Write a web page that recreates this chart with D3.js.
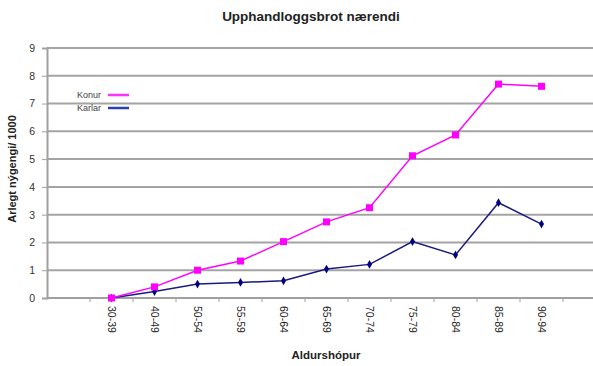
<!DOCTYPE html>
<html><head><meta charset="utf-8">
<script src="https://cdn.jsdelivr.net/npm/d3@7"></script>
<style>body{margin:0;background:#fff}svg{display:block}</style>
</head><body>
<script>
const categories = ["30-39","40-49","50-54","55-59","60-64","65-69","70-74","75-79","80-84","85-89","90-94"];
const konur = [0, 0.4, 1.0, 1.33, 2.03, 2.74, 3.25, 5.12, 5.87, 7.70, 7.62];
const karlar = [0, 0.23, 0.5, 0.56, 0.62, 1.04, 1.21, 2.03, 1.55, 3.43, 2.66];
const yTicks = [0,1,2,3,4,5,6,7,8,9];
const title = "Upphandloggsbrot nærendi";
const yTitle = "Arlegt nýgengi/ 1000";
const xTitle = "Aldurshópur";
const seriesNames = ["Konur","Karlar"];

(function(){
const W = 593, H = 366;
const svg = d3.select("body").append("svg").attr("width", W).attr("height", H)
  .style("font-family","Arial, 'Liberation Sans', sans-serif");

const mLeft = 47, mBottom = 298, mTop = 48;
const domain = ["_a", ...categories, "_b"];
const x = d3.scaleBand().domain(domain).range([mLeft, mLeft + 43*domain.length]);
const y = d3.scaleLinear().domain([0,9]).range([mBottom, mTop]);

// gridlines
svg.append("g").selectAll("line").data(yTicks.filter(d=>d>0)).join("line")
  .attr("x1", mLeft).attr("x2", W+20).attr("y1", d=>y(d)).attr("y2", d=>y(d))
  .attr("stroke","#a4a4a4").attr("stroke-width",2);

// y axis
const ya = svg.append("g").attr("transform",`translate(${mLeft},0)`)
  .call(d3.axisLeft(y).tickValues(yTicks).tickSize(5).tickPadding(7));
ya.select(".domain").attr("stroke","#a0a0a0").attr("stroke-width",2);
ya.selectAll(".tick line").attr("stroke","#a0a0a0");
ya.selectAll("text").attr("font-size",10.5).attr("fill","#333").attr("font-family","Arial, 'Liberation Sans', sans-serif");

// x axis
const xa = svg.append("g").attr("transform",`translate(0,${mBottom})`);
xa.append("line").attr("x1",mLeft).attr("x2",W+20).attr("stroke","#a0a0a0").attr("stroke-width",2);
xa.selectAll(".tk").data(domain.slice(1)).join("line").attr("class","tk")
  .attr("x1",d=>x(d)).attr("x2",d=>x(d)).attr("y1",0).attr("y2",4)
  .attr("stroke","#a0a0a0");
xa.selectAll(".lb").data(categories).join("text").attr("class","lb")
  .attr("transform",d=>`translate(${x(d)+x.bandwidth()/2},8) rotate(90)`)
  .attr("dy","0.35em").attr("font-size",10.5).attr("fill","#222").text(d=>d);

// lines
const line = d3.line().x((d,i)=>x(categories[i])+x.bandwidth()/2).y(d=>y(d));
svg.append("path").datum(karlar).attr("d",line).attr("fill","none")
  .attr("stroke","#1a1a80").attr("stroke-width",1.5);
svg.append("path").datum(konur).attr("d",line).attr("fill","none")
  .attr("stroke","#ff00ff").attr("stroke-width",1.5);
svg.append("g").selectAll("path").data(karlar).join("path")
  .attr("d", d3.symbol(d3.symbolDiamond, 22))
  .attr("transform",(d,i)=>`translate(${x(categories[i])+x.bandwidth()/2},${y(d)})`)
  .attr("fill","#000080");
svg.append("g").selectAll("rect").data(konur).join("rect")
  .attr("x",(d,i)=>x(categories[i])+x.bandwidth()/2-3.5).attr("y",d=>y(d)-3.5)
  .attr("width",7).attr("height",7).attr("fill","#ff00ff");

// titles
svg.append("text").attr("x",311).attr("y",21).attr("text-anchor","middle")
  .attr("font-size",13.5).attr("font-weight","bold").attr("fill","#222").text(title);
svg.append("text").attr("transform","translate(16,169) rotate(-90)").attr("text-anchor","middle")
  .attr("font-size",11).attr("font-weight","bold").attr("fill","#222").text(yTitle);
svg.append("text").attr("x",326).attr("y",359).attr("text-anchor","middle")
  .attr("font-size",11.5).attr("font-weight","bold").attr("fill","#222").text(xTitle);

// legend
const lcol = ["#ff33ff","#2a40b0"];
const lg = svg.append("g").selectAll("g").data(seriesNames).join("g")
  .attr("transform",(d,i)=>`translate(77,${95+i*13})`);
lg.append("text").attr("dy","0.35em").attr("font-size",9).attr("fill","#444").text(d=>d);
lg.append("line").attr("x1",31).attr("x2",52).attr("stroke",(d,i)=>lcol[i]).attr("stroke-width",2.5);
})();
</script>
</body></html>
